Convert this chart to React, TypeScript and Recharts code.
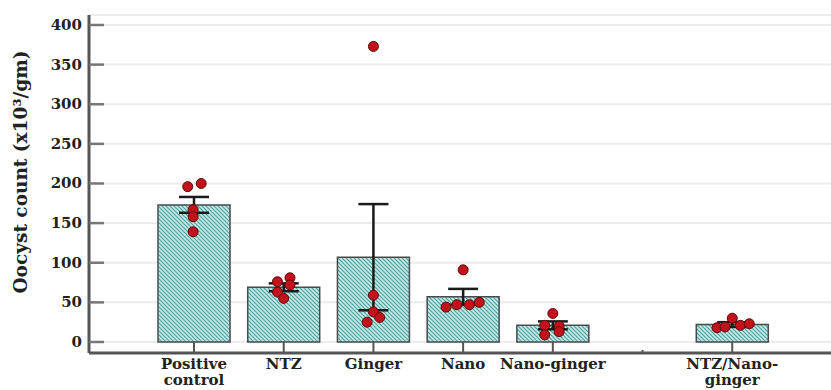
import { ComposedChart, Bar, Scatter, XAxis, YAxis, CartesianGrid, ErrorBar } from 'recharts';

const groups = ['Positive\ncontrol', 'NTZ', 'Ginger', 'Nano', 'Nano-ginger', '', 'NTZ/Nano-\nginger'];
const groupPos = [1, 2, 3, 4, 5, 6, 7];
const means = [173, 69, 107, 57, 21, null, 22];
const errs = [10, 5, 67, 10, 5, null, 3];
const yTicks = [0, 50, 100, 150, 200, 250, 300, 350, 400];

// individual animals, value + horizontal jitter (in category units)
const pcVals = [196, 200, 167, 158, 139];
const pcJit = [-0.07, 0.08, -0.01, -0.01, -0.01];
const ntzVals = [76, 81, 72, 63, 55];
const ntzJit = [-0.07, 0.07, 0.07, -0.07, 0];
const gingerVals = [373, 59, 38, 31, 25];
const gingerJit = [0, 0, 0, 0.07, -0.07];
const nanoVals = [91, 44, 47, 47, 50];
const nanoJit = [0, -0.19, -0.07, 0.07, 0.18];
const ngVals = [36, 21, 20, 13, 9];
const ngJit = [0, -0.09, 0.07, 0.07, -0.09];
const ntzNgVals = [30, 18, 19, 21, 23];
const ntzNgJit = [0, -0.17, -0.08, 0.09, 0.19];

const barData = groups.map((g, i) => ({ name: g, mean: means[i], err: errs[i] }));

const pointSets: [number, number[], number[]][] = [
  [1, pcVals, pcJit],
  [2, ntzVals, ntzJit],
  [3, gingerVals, gingerJit],
  [4, nanoVals, nanoJit],
  [5, ngVals, ngJit],
  [7, ntzNgVals, ntzNgJit],
];
const points = pointSets.flatMap(([p, vals, jit]) => vals.map((v, i) => ({ pos: p + jit[i], count: v })));

const FONT = '"DejaVu Serif", serif';
const AXIS = '#555';

const XTick = (props: any) => {
  const { x, y, payload } = props;
  const idx = groupPos.indexOf(payload.value);
  const lines = (groups[idx] || '').split('\n');
  const isGap = lines[0] === '';
  return (
    <g>
      <line x1={x} x2={x} y1={y} y2={isGap ? y - 3 : y - 11} stroke={AXIS} strokeWidth={2} />
      <text x={x} y={y + 16} textAnchor="middle" fontFamily={FONT} fontWeight="bold" fontSize={15} fill="#222">
        {lines.map((l, i) => (
          <tspan key={i} x={x} dy={i === 0 ? 0 : 16}>
            {l}
          </tspan>
        ))}
      </text>
    </g>
  );
};

const YTick = (props: any) => {
  const { x, y, payload } = props;
  return (
    <g>
      <line x1={x} x2={x + 15} y1={y} y2={y} stroke="#777" strokeWidth={2.5} />
      <text x={x - 7} y={y} dy={5} textAnchor="end" fontFamily={FONT} fontWeight="bold" fontSize={15} fill="#222">
        {payload.value}
      </text>
    </g>
  );
};

const Dot = (props: any) => (
  <circle cx={props.cx} cy={props.cy} r={5} fill="#c3121c" stroke="#5c0a0a" strokeWidth={1} />
);

export default function App() {
  return (
    <div style={{ position: 'absolute', left: 0, top: 0, background: '#fff' }}>
      <ComposedChart width={831} height={390} data={barData} margin={{ top: 15, right: 0, bottom: 0, left: 0 }}>
        <defs>
          <pattern id="hatch" width="4" height="4" patternUnits="userSpaceOnUse">
            <rect width="4" height="4" fill="#c6ebe8" />
            <path d="M-1,-1 L5,5 M-1,3 L1,5 M3,-1 L5,1" stroke="#4aa29f" strokeWidth={1.2} />
          </pattern>
        </defs>
        <CartesianGrid vertical={false} stroke="#ececec" strokeWidth={2} />
        <XAxis xAxisId="cat" dataKey="name" type="category" hide height={0} padding={{ left: 60, right: 54 }} />
        <XAxis
          xAxisId="num"
          dataKey="pos"
          type="number"
          domain={[-0.1706, 8.101]}
          ticks={groupPos}
          interval={0}
          allowDataOverflow
          height={37}
          tickSize={0}
          tickMargin={0}
          tickLine={false}
          axisLine={{ stroke: AXIS, strokeWidth: 3 }}
          tick={<XTick />}
        />
        <YAxis
          type="number"
          domain={[-13.9, 412.6]}
          ticks={yTicks}
          interval={0}
          allowDataOverflow
          width={89}
          tickSize={0}
          tickMargin={0}
          tickLine={false}
          axisLine={{ stroke: AXIS, strokeWidth: 3 }}
          tick={<YTick />}
          label={{
            content: () => (
              <text
                x={27}
                y={172}
                transform="rotate(-90 27 172)"
                textAnchor="middle"
                fontFamily={FONT}
                fontWeight="bold"
                fontSize={18.5}
                fill="#222"
              >
                Oocyst count (x10³/gm)
              </text>
            ),
          }}
        />
        <Bar
          xAxisId="cat"
          dataKey="mean"
          barSize={72}
          fill="url(#hatch)"
          stroke="#4a4a4a"
          strokeWidth={1.5}
          isAnimationActive={false}
        >
          <ErrorBar dataKey="err" width={15} stroke="#1a1a1a" strokeWidth={2.5} direction="y" />
        </Bar>
        <Scatter xAxisId="num" data={points} dataKey="count" shape={<Dot />} isAnimationActive={false} />
      </ComposedChart>
    </div>
  );
}
